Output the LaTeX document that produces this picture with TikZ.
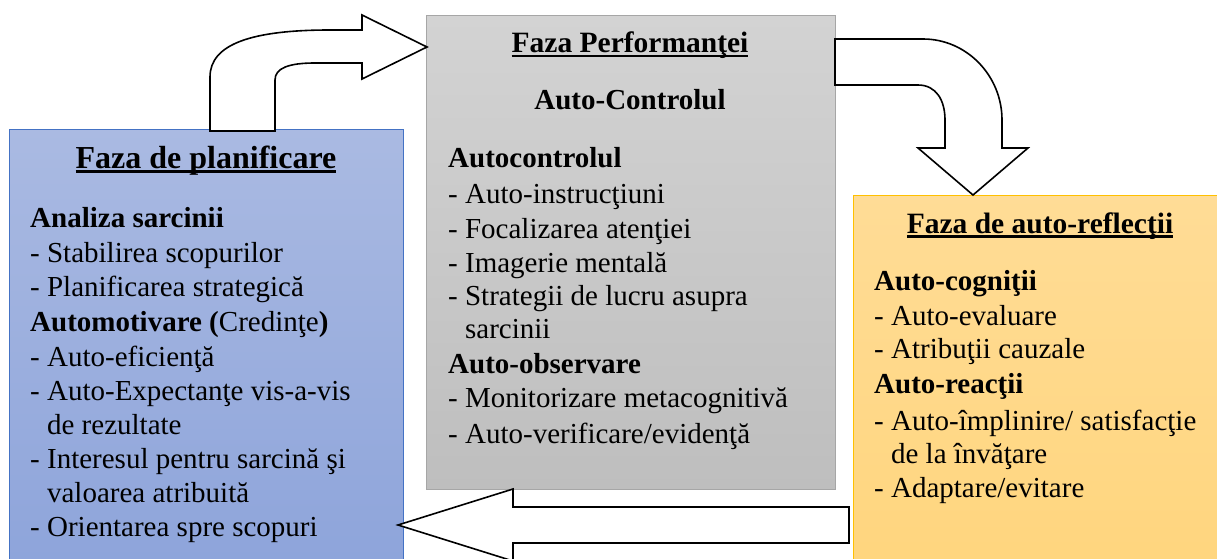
\documentclass[tikz,border=0pt]{standalone}
\usepackage{fontspec}
\setmainfont{Liberation Serif}
\definecolor{bluetop}{HTML}{AABAE2}
\definecolor{bluebot}{HTML}{8CA3DA}
\definecolor{blueline}{HTML}{4472C4}
\definecolor{graytop}{HTML}{D3D3D3}
\definecolor{graybot}{HTML}{BEBEBE}
\definecolor{grayline}{HTML}{A6A6A6}
\definecolor{orangetop}{HTML}{FFDC96}
\definecolor{orangebot}{HTML}{FFD57C}
\definecolor{orangeline}{HTML}{FFC000}
\newsavebox\ulbox
\newcommand\ulin[1]{\sbox\ulbox{#1}\rlap{\rule[-4.5pt]{\wd\ulbox}{2.2pt}}\usebox\ulbox}
\begin{document}
\begin{tikzpicture}[x=1pt,y=-1pt,
  box/.style={anchor=north west, inner sep=0pt, line width=1.3pt},
  bigarrow/.style={fill=white, draw=black, line width=1.6pt, line join=miter},
  body/.style={anchor=base west, inner sep=0pt, font=\fontsize{29}{34}\selectfont},
  head/.style={anchor=base west, inner sep=0pt, font=\fontsize{29}{34}\selectfont\bfseries},
  ttl/.style={anchor=base, inner sep=0pt, font=\fontsize{29.5}{34}\selectfont\bfseries}]
\clip (0,0) rectangle (1217,559);
\fill[white] (0,0) rectangle (1217,559);
% boxes
\node[box, draw=blueline, top color=bluetop, bottom color=bluebot,
  minimum width=394pt, minimum height=460pt] (plan) at (9,129) {};
\node[box, draw=grayline, top color=graytop, bottom color=graybot,
  minimum width=409pt, minimum height=474pt] (perf) at (426,15) {};
\node[box, draw=orangeline, top color=orangetop, bottom color=orangebot,
  minimum width=400pt, minimum height=400pt] (refl) at (853,195) {};
% arrows
\path[bigarrow] (210,131) -- (210,77) .. controls (210,44) and (252,30) .. (330,30)
  -- (362,30) -- (362,15) -- (427,47) -- (362,79) -- (362,63) -- (315,63)
  .. controls (289,63) and (275,68) .. (275,80) -- (275,131) -- cycle;
\path[bigarrow] (835,39) -- (923,39) .. controls (967,39) and (1002,76) .. (1002,120)
  -- (1002,148) -- (1028,148) -- (973,195) -- (918,148) -- (945,148) -- (945,120)
  .. controls (945,100) and (936,85) .. (918,85) -- (835,85) -- cycle;
\path[bigarrow] (849,507) -- (513,507) -- (513,489) -- (398,525) -- (513,561)
  -- (513,543) -- (849,543) -- cycle;
% planning phase text
\node[ttl, font=\fontsize{32}{36}\selectfont\bfseries] (pt) at (206,168) {\ulin{Faza de planificare}};
\node[head] (p1) at (30,227) {Analiza sarcinii};
\node[body] (p2) at (30,262) {- Stabilirea scopurilor};
\node[body] (p3) at (30,296) {- Planificarea strategică};
\node[body] (p4) at (30,331) {\textbf{Automotivare (}Credinţe\textbf{)}};
\node[body] (p5) at (30,366) {- Auto-eficienţă};
\node[body] (p6) at (30,400) {- Auto-Expectanţe vis-a-vis};
\node[body] (p7) at (30,434) {\phantom{- }de rezultate};
\node[body] (p8) at (30,468) {- Interesul pentru sarcină şi};
\node[body] (p9) at (30,502) {\phantom{- }valoarea atribuită};
\node[body] (p10) at (30,536) {- Orientarea spre scopuri};
% performance phase text
\node[ttl] (ft) at (630,53) {\ulin{Faza Performanţei}};
\node[ttl, font=\fontsize{29}{34}\selectfont\bfseries] (fs) at (630,110) {Auto-Controlul};
\node[head] (f1) at (448,167) {Autocontrolul};
\node[body] (f2) at (448,203) {- Auto-instrucţiuni};
\node[body] (f3) at (448,238) {- Focalizarea atenţiei};
\node[body] (f4) at (448,272) {- Imagerie mentală};
\node[body] (f5) at (448,305) {- Strategii de lucru asupra};
\node[body] (f6) at (448,338) {\phantom{- }sarcinii};
\node[head] (f7) at (448,373) {Auto-observare};
\node[body] (f8) at (448,407) {- Monitorizare metacognitivă};
\node[body] (f9) at (448,443) {- Auto-verificare/evidenţă};
% self-reflection phase text
\node[ttl] (rt) at (1040,233) {\ulin{Faza de auto-reflecţii}};
\node[head] (r1) at (874,290) {Auto-cogniţii};
\node[body] (r2) at (874,325) {- Auto-evaluare};
\node[body] (r3) at (874,358) {- Atribuţii cauzale};
\node[head] (r4) at (874,393) {Auto-reacţii};
\node[body] (r5) at (874,430) {- Auto-împlinire/ satisfacţie};
\node[body] (r6) at (874,463) {\phantom{- }de la învăţare};
\node[body] (r7) at (874,497) {- Adaptare/evitare};
\end{tikzpicture}
\end{document}
